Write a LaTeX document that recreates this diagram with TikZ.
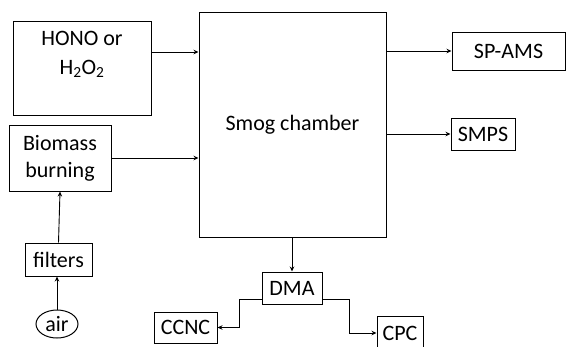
\documentclass[tikz,border=0pt]{standalone}
\usepackage{fontspec}
\setmainfont{Carlito}
\usetikzlibrary{arrows.meta,shapes.geometric}
\begin{document}
\begin{tikzpicture}[x=1pt,y=-1pt,
  box/.style={draw=black, line width=1pt, inner sep=0pt, align=center, font=\fontsize{22}{27}\selectfont},
  lbl/.style={inner sep=0pt, font=\fontsize{22}{27}\selectfont},
  arr/.style={draw=black, -{Stealth[length=5pt,width=4.5pt]}, line width=0.9pt}]
\useasboundingbox (0,0) rectangle (567,346);
\clip (0,0) rectangle (567,346);
% boxes
\node[box, minimum width=138pt, minimum height=94pt] (hono) at (82,68) {};
\node[lbl, anchor=base] (honoA) at (82,45) {HONO or};
\node[lbl, anchor=base] (honoB) at (82,74) {H\textsubscript{2}O\textsubscript{2}};
\node[box, minimum width=102pt, minimum height=66pt] (bio) at (60,158) {Biomass\\burning};
\node[box, minimum width=187pt, minimum height=225pt] (chamber) at (292.5,124.5) {Smog chamber};
\node[box, minimum width=113pt, minimum height=38pt] (sp) at (508.5,51) {SP-AMS};
\node[box, minimum width=64pt, minimum height=32pt] (smps) at (483,134) {SMPS};
\node[box, minimum width=60pt, minimum height=32pt] (dma) at (292,288) {DMA};
\node[box, minimum width=63pt, minimum height=31pt] (ccnc) at (185.5,327.5) {CCNC};
\node[box, minimum width=46pt, minimum height=34pt] (cpc) at (400,333) {CPC};
\node[box, minimum width=67pt, minimum height=33pt] (filters) at (58.5,259.5) {filters};
\node[box, ellipse, minimum width=42pt, minimum height=28pt] (air) at (57,324) {air};
% connectors
\draw[arr] (hono.east |- 0,52) -- (chamber.west |- 0,52);
\draw[arr] (bio.east) -- (bio.east -| chamber.west);
\draw[arr] (sp.west -| chamber.east) -- (sp.west);
\draw[arr] (smps.west -| chamber.east) -- (smps.west);
\draw[arr] (chamber.south -| dma.north) -- (dma.north);
\draw[arr] (filters.north) -- (bio.south);
\draw[arr] (air.north) -- (air.north |- filters.south);
\coordinate (cl) at (239,299);
\coordinate (cr) at (349,299);
\draw[arr] (dma.west |- cl) -- (cl) |- (ccnc.east);
\draw[arr] (dma.east |- cr) -- (cr) |- (cpc.west);
\end{tikzpicture}
\end{document}
